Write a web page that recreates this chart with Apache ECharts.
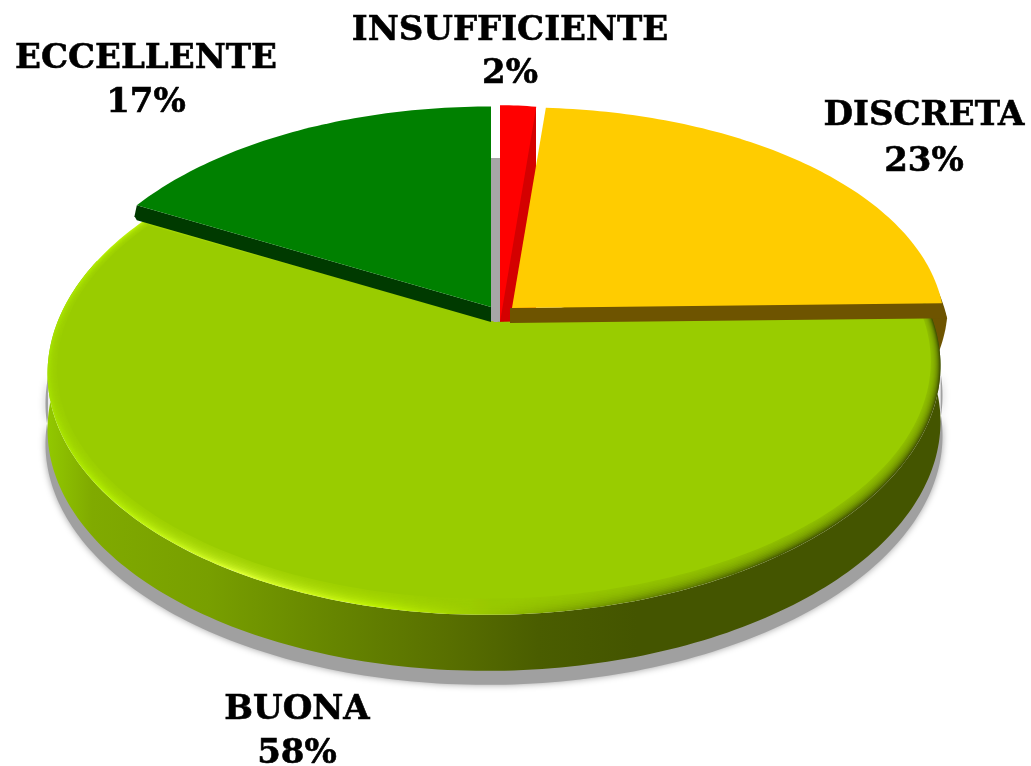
<!DOCTYPE html>
<html><head><meta charset="utf-8">
<style>html,body{margin:0;padding:0;background:#fff}#c{width:1031px;height:766px}</style>
<script src="https://cdn.jsdelivr.net/npm/echarts@6/dist/echarts.min.js"></script>
</head><body><div id="c"></div>
<script>
const categories = ['INSUFFICIENTE', 'DISCRETA', 'BUONA', 'ECCELLENTE'];
const values = [2, 23, 58, 17];

const total = values.reduce((a, b) => a + b, 0);
const sliceStart = i => values.slice(0, i).reduce((a, b) => a + b, 0) / total * 360;
const sliceEnd = i => sliceStart(i) + values[i] / total * 360;

function P(o, a, dy, ru, rv, dX) {
  const t = a * Math.PI / 180, u = Math.sin(t) * (ru || 1), v = -Math.cos(t) * (rv || 1);
  const w = 1 - o.k * v;
  const x = o.cx + (o.X + (dX || 0)) * u / w;
  const y = o.cy + o.Y * v / w + (dy || 0) + (o.sh || 0) * (x - o.cx);
  return [x, y];
}
function arc(o, a0, a1, dy, ru, rv, dX) {
  const n = Math.max(2, Math.ceil(Math.abs(a1 - a0))), pts = [];
  for (let i = 0; i <= n; i++) pts.push(P(o, a0 + (a1 - a0) * i / n, dy, ru, rv, dX));
  return pts;
}
const sector = (o, a0, a1, dy, ru, rv, dX) => [[o.cx, o.cy + (dy || 0)]].concat(arc(o, a0, a1, dy, ru, rv, dX));
const band = (o, a0, a1, dy0, dy1, dX) => arc(o, a0, a1, dy0, 1, 1, dX).concat(arc(o, a1, a0, dy1, 1, 1, dX));
const poly = (points, style, z2) => ({ type: 'polygon', shape: { points }, style, z2 });
const hGrad = stops => ({ type: 'linear', x: 0, y: 0, x2: 1, y2: 0,
  colorStops: stops.map(s => ({ offset: s[0], color: s[1] })) });

const FONT = 'bold 34px "DejaVu Serif"';
const labelAt = [[510, 31, 74], [924, 116, 162], [297, 710, 754], [146, 59, 103]];

function renderItem(params, api) {
  const i = params.dataIndex, a0 = sliceStart(i), a1 = sliceEnd(i), kids = [];
  if (i === 0) {
    const o = { cx: 500, cy: 322, X: 320, Y: 240, k: 0.107 };
    kids.push({ type: 'rect', shape: { x: 491, y: 158, width: 10, height: 165 }, style: { fill: '#a6a6a6' }, z2: 1 });
    kids.push({ type: 'rect', shape: { x: 500, y: 108, width: 36, height: 215 }, style: { fill: '#d40000' }, z2: 4 });
    kids.push(poly(sector(o, a0, a1), { fill: '#ff0000' }, 31));
  }
  if (i === 1) {
    const o = { cx: 512, cy: 308, X: 430, Y: 222, k: 0.107, sh: -0.011 };
    const nudged = a0 - 2.2;
    const tail = [[o.cx, o.cy + 15]].concat(arc(o, 60, a1, 15, 1, 1, 5));
    for (let t = 1; t <= 8; t++) tail.push(P(o, a1 + t, 15, 1, 1, 5 - t * 1.2));
    kids.push(poly(tail, { fill: '#6e5400' }, 2));
    kids.push(poly([[510, o.cy], P(o, a1, 0), P(o, a1, 15, 1, 1, 5), [510, o.cy + 15]], { fill: '#6e5400' }, 25));
    kids.push(poly(sector(o, nudged, a1), { fill: '#ffcc00' }, 32));
  }
  if (i === 2) {
    const o = { cx: 494, cy: 322, X: 438, Y: 236, k: 0.194, sh: -0.009 };
    kids.push(poly(band(o, a0 + 6, a1 - 34, 30, 70, 2), { fill: '#a0a0a0', shadowBlur: 7, shadowColor: '#a0a0a0' }, 3));
    kids.push(poly(band(o, a0 - 5, a1 - 12, 0, 56), { fill: hGrad([
      [0, '#92c800'], [0.05, '#80aa00'], [0.18, '#789f00'], [0.32, '#668500'],
      [0.45, '#586f00'], [0.55, '#4a5d00'], [0.66, '#445500'], [1, '#445500']]) }, 5));
    kids.push(poly(sector(o, a0, a1), { fill: hGrad([
      [0, '#a6e000'], [0.06, '#b4f000'], [0.22, '#dcff30'], [0.38, '#bcf000'],
      [0.54, '#8ab400'], [0.66, '#688800'], [0.82, '#4a6000'], [1, '#445500']]) }, 6));
    const steps = 10;
    for (let t = 1; t <= steps; t++) {
      const f = t / steps;
      kids.push(poly(sector(o, a0, a1, 0, 1 - 0.02 * f, 1 - 0.045 * f),
        { fill: '#99cc00', opacity: t === steps ? 1 : 0.2 }, 7 + t * 0.1));
    }
  }
  if (i === 3) {
    const o = { cx: 491, cy: 307, X: 425, Y: 222, k: 0.107 };
    kids.push(poly([[o.cx, o.cy], P(o, a0, 0), P(o, a0 - 0.6, 9), P(o, a0, 15), [o.cx, o.cy + 15]], { fill: '#003a00' }, 25));
    kids.push(poly(sector(o, a0, a1), { fill: '#008000' }, 33));
  }
  const at = labelAt[i];
  const txt = (text, y) => ({ type: 'text', z2: 50, style: { text, x: at[0], y, font: FONT, fill: '#000', stroke: '#000', lineWidth: 0.6, textAlign: 'center', textVerticalAlign: 'middle' } });
  kids.push(txt(categories[i], at[1]));
  kids.push(txt(api.value(0) + '%', at[2]));
  return { type: 'group', children: kids };
}

const chart = echarts.init(document.getElementById('c'), null, { renderer: 'canvas' });
chart.setOption({
  animation: false,
  backgroundColor: '#ffffff',
  series: [{ type: 'custom', coordinateSystem: 'none', renderItem, data: values.map(v => [v]), silent: true, clip: false }]
});
</script></body></html>
